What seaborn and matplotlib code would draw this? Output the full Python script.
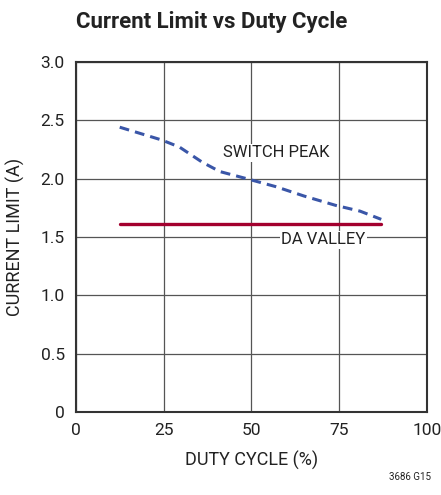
import pandas as pd
import matplotlib
matplotlib.use("Agg")
import matplotlib.pyplot as plt
import seaborn as sns

# data
duty_peak = [12.5, 24.5, 29.5, 36, 41, 48.5, 57, 65, 74, 81, 87]
switch_peak = [2.44, 2.33, 2.27, 2.14, 2.06, 2.00, 1.93, 1.85, 1.77, 1.72, 1.65]
duty_valley = [12.5, 87]
da_valley = [1.61, 1.61]

x_ticks = [0, 25, 50, 75, 100]
y_ticks = [0, 0.5, 1.0, 1.5, 2.0, 2.5, 3.0]
y_labels = ["0", "0.5", "1.0", "1.5", "2.0", "2.5", "3.0"]

sns.set_style("white")
plt.rcParams["font.family"] = ["Roboto", "DejaVu Sans"]

fig = plt.figure(figsize=(4.41, 4.95), dpi=100)
ax = fig.add_axes([0.172, 0.168, 0.796, 0.707])

df_peak = pd.DataFrame({"duty": duty_peak, "amps": switch_peak})
df_valley = pd.DataFrame({"duty": duty_valley, "amps": da_valley})

sns.lineplot(data=df_peak, x="duty", y="amps", ax=ax, color="#3a56a8",
             linewidth=2.2, linestyle=(0, (3.2, 2.0)))
sns.lineplot(data=df_valley, x="duty", y="amps", ax=ax, color="#a3002e",
             linewidth=2.4)

ax.set_xlim(0, 100)
ax.set_ylim(0, 3.0)
ax.set_xticks(x_ticks)
ax.set_yticks(y_ticks)
ax.set_yticklabels(y_labels)
ax.grid(True, color="#555555", linewidth=0.9)
ax.set_axisbelow(True)
for s in ax.spines.values():
    s.set_color("#333333")
    s.set_linewidth(1.5)
ax.tick_params(labelsize=12.5, length=0, colors="#222222")
ax.tick_params(axis="x", pad=8)
ax.tick_params(axis="y", pad=8)

ax.set_xlabel("DUTY CYCLE (%)", fontsize=13, color="#222222", labelpad=9)
ax.set_ylabel("CURRENT LIMIT (A)", fontsize=13, color="#222222", labelpad=11)

ax.text(57, 2.22, "SWITCH PEAK", fontsize=12, ha="center", va="center",
        color="#222222", bbox=dict(facecolor="white", edgecolor="none", pad=1))
ax.text(70.5, 1.475, "DA VALLEY", fontsize=12, ha="center", va="center",
        color="#222222", bbox=dict(facecolor="white", edgecolor="none", pad=1))

fig.text(0.48, 0.955, "Current Limit vs Duty Cycle", fontsize=16,
         fontweight="bold", ha="center", va="center", color="#222222")
fig.text(0.93, 0.036, "3686 G15", fontsize=7, ha="center", va="center",
         color="#222222")

fig.savefig("out.png", dpi=100)
